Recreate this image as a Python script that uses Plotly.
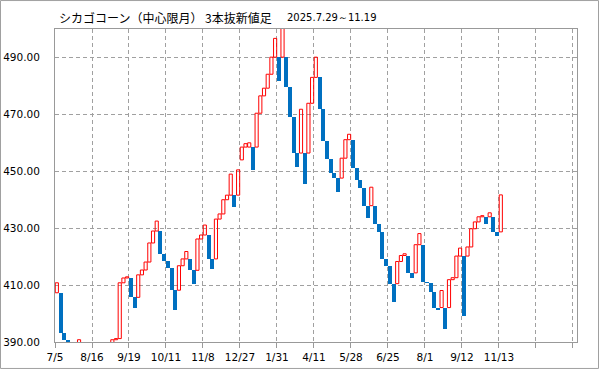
import plotly.graph_objects as go

# ---- data ----
opens = [407.3, 407.3, 393.2, 390.6, 388.0, 385.5, 385.5, 385.5, 381.0, 377.0,
         372.0, 368.0, 368.0, 375.0, 382.0, 388.0, 390.8, 391.2, 410.8, 412.5,
         412.5, 405.7, 405.7, 413.6, 415.3, 418.1, 424.8, 429.0, 429.0, 420.9,
         418.4, 415.9, 408.2, 408.2, 416.8, 419.2, 419.2, 415.2, 415.2, 426.2,
         427.6, 427.6, 419.2, 419.2, 433.2, 435.0, 440.0, 441.6, 441.6, 441.6,
         454.0, 458.5, 458.5, 458.5, 458.5, 470.4, 476.5, 479.2, 484.1, 490.1,
         490.1, 490.1, 490.1, 479.5, 469.2, 456.4, 456.4, 456.4, 456.4, 473.9,
         483.0, 483.0, 471.8, 460.5, 454.3, 449.4, 447.6, 447.6, 454.6, 461.1,
         461.1, 451.1, 447.0, 444.0, 437.9, 437.9, 437.9, 431.6, 428.6, 419.2,
         416.7, 410.5, 410.5, 418.3, 420.4, 420.4, 414.3, 414.3, 424.2, 424.2,
         411.1, 410.9, 407.6, 402.1, 402.1, 402.1, 402.1, 411.9, 412.6, 420.2,
         420.2, 420.2, 423.4, 429.8, 432.2, 434.0, 434.0, 434.0, 434.0, 428.7,
         428.7]
closes = [410.8, 393.2, 390.6, 388.0, 385.5, 383.0, 390.8, 381.0, 377.0, 372.0,
          368.0, 365.0, 375.0, 382.0, 388.0, 390.8, 391.2, 410.8, 412.5, 412.9,
          405.7, 401.9, 413.6, 415.3, 418.1, 424.8, 429.0, 432.5, 420.9, 418.4,
          415.9, 408.2, 401.2, 416.8, 419.2, 421.8, 415.2, 410.5, 426.2, 427.6,
          431.1, 419.2, 415.7, 433.2, 435.0, 440.0, 441.6, 449.0, 437.5, 450.5,
          458.5, 459.7, 460.0, 450.5, 470.4, 476.5, 479.2, 484.1, 490.1, 496.7,
          481.9, 505.0, 479.5, 469.2, 456.4, 451.5, 471.8, 445.4, 473.9, 483.0,
          490.1, 471.8, 460.5, 454.3, 449.4, 447.6, 442.6, 454.6, 461.1, 463.0,
          451.1, 447.0, 444.0, 437.9, 433.6, 444.4, 431.6, 428.6, 419.2, 416.7,
          410.5, 404.1, 418.3, 420.4, 421.0, 414.3, 412.6, 424.2, 428.1, 411.1,
          410.9, 407.6, 402.1, 401.3, 408.1, 394.6, 411.9, 412.6, 420.2, 423.0,
          399.2, 423.4, 429.8, 432.2, 434.0, 434.4, 431.6, 435.4, 428.7, 427.2,
          441.7]
tick_labels = ["7/5", "8/16", "9/19", "10/11", "11/8", "12/27", "1/31", "4/11",
               "5/28", "6/25", "8/1", "9/12", "11/13", "", ""]
y_ticks = [390, 410, 430, 450, 470, 490]
title_main = "シカゴコーン（中心限月） 3本抜新値足"
title_period = "2025.7.29～11.19"

# ---- build bars ----
up_x, up_base, up_h = [], [], []
dn_x, dn_base, dn_h = [], [], []
for i, (o, c) in enumerate(zip(opens, closes)):
    lo, hi = min(o, c), max(o, c)
    if c >= o:
        up_x.append(i + 0.5); up_base.append(lo); up_h.append(hi - lo)
    else:
        dn_x.append(i + 0.5); dn_base.append(lo); dn_h.append(hi - lo)

fig = go.Figure()
fig.add_trace(go.Bar(x=dn_x, y=dn_h, base=dn_base, width=1.08,
                     marker=dict(color="#0070C0", line=dict(width=0)),
                     hoverinfo="skip"))
fig.add_trace(go.Bar(x=up_x, y=up_h, base=up_base, width=0.85,
                     marker=dict(color="rgba(255,255,255,0)",
                                 line=dict(color="#FF0000", width=1)),
                     hoverinfo="skip"))

grid_col = "#A0A0A0"
fig.update_layout(
    width=599, height=369,
    margin=dict(l=55, r=22, t=29, b=27),
    paper_bgcolor="white", plot_bgcolor="white",
    showlegend=False, barmode="overlay", bargap=0,
    xaxis=dict(range=[0, 141.1], tickmode="array", automargin=False,
               tickvals=[10 * k for k in range(len(tick_labels))],
               ticktext=tick_labels, showgrid=True, gridcolor=grid_col,
               griddash="4px,3px", gridwidth=1, zeroline=False,
               showline=True, linecolor="#999999", linewidth=1, mirror=True,
               ticks="outside", ticklen=5, tickcolor="#999999",
               tickfont=dict(family="DejaVu Sans", size=10.5, color="#000000")),
    yaxis=dict(range=[390, 500], tickmode="array", tickvals=y_ticks,
               automargin=False,
               tickformat=".2f", showgrid=True, gridcolor=grid_col,
               griddash="4px,3px", gridwidth=1, zeroline=False,
               showline=True, linecolor="#999999", linewidth=1, mirror=True,
               ticks="", ticklabelstandoff=12,
               tickfont=dict(family="DejaVu Sans", size=10.5, color="#000000")),
)

fig.add_annotation(text=title_main, xref="paper", yref="paper",
                   x=2 / 522, y=1 + 12 / 313.5, xanchor="left", yanchor="middle",
                   showarrow=False,
                   font=dict(family="Noto Sans CJK JP", size=12, color="#000000"))
fig.add_annotation(text=title_period, xref="paper", yref="paper",
                   x=230 / 522, y=1 + 12 / 313.5, xanchor="left", yanchor="middle",
                   showarrow=False,
                   font=dict(family="DejaVu Sans", size=10, color="#000000"))

# outer frame of the image
fig.add_shape(type="rect", xref="paper", yref="paper",
              x0=-54.5 / 522, x1=1 + 21.5 / 522,
              y0=-26.5 / 313.5, y1=1 + 28.5 / 313.5,
              line=dict(color="#A0A0A0", width=1), fillcolor="rgba(0,0,0,0)",
              layer="above")

fig.write_html("out.html",
               config={"displayModeBar": False, "staticPlot": True},
               post_script="document.body.style.margin='0';"
                           "document.body.style.overflow='hidden';")
